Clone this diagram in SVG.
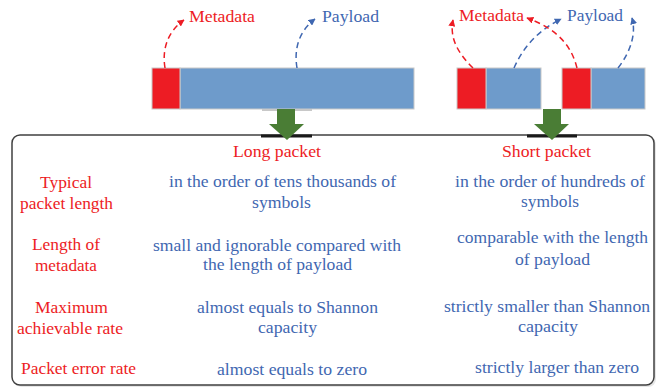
<svg xmlns="http://www.w3.org/2000/svg" width="662" height="388" viewBox="0 0 662 388">
<style>
.t{font-family:'Liberation Serif',serif;font-size:16px}
.r{fill:#ED1C24}
.b{fill:#3F67B1}
.meta{fill:#ED1C24;stroke:#C8C8C8;stroke-width:1}
.pay{fill:#6E9BCB;stroke:#C8C8C8;stroke-width:1}
.dr{fill:none;stroke:#ED1C24;stroke-width:1.5;stroke-dasharray:6 4}
.db{fill:none;stroke:#3F67B1;stroke-width:1.5;stroke-dasharray:6 4}
.green{fill:#4A7D35}
.bar{stroke:#1a1a1a;stroke-width:3}
</style>
<defs>
<marker id="ar" viewBox="0 0 10 10" refX="9" refY="5" markerWidth="7" markerHeight="7" markerUnits="userSpaceOnUse" orient="auto"><path d="M0,0 L10,5 L0,10 z" fill="#ED1C24"/></marker>
<marker id="ab" viewBox="0 0 10 10" refX="9" refY="5" markerWidth="7" markerHeight="7" markerUnits="userSpaceOnUse" orient="auto"><path d="M0,0 L10,5 L0,10 z" fill="#3F67B1"/></marker>
</defs>

<g id="long-packet">
<rect x="180" y="68" width="234" height="41" class="pay"/>
<rect x="152" y="68" width="28" height="41" class="meta"/>
<rect x="262" y="109" width="50" height="2" fill="#C8C8C8"/>
</g>
<g id="short-packet-1">
<rect x="486" y="68" width="55" height="41" class="pay"/>
<rect x="457" y="68" width="29" height="41" class="meta"/>
</g>
<g id="short-packet-2">
<rect x="591" y="68" width="54" height="41" class="pay"/>
<rect x="562" y="68" width="29" height="41" class="meta"/>
</g>

<g id="connectors">
<path d="M165,68 C162,50 167,32 184,20" class="dr" marker-end="url(#ar)"/>
<path d="M297,68 C294,50 298,32 315,19" class="db" marker-end="url(#ab)"/>
<path d="M473,68 C460,55 449,40 453,20" class="dr" marker-end="url(#ar)"/>
<path d="M514,68 C522,50 535,32 561,19" class="db" marker-end="url(#ab)"/>
<path d="M577,68 C572,48 560,30 527,18" class="dr" marker-end="url(#ar)"/>
<path d="M618,68 C632,50 636,32 632,18" class="db" marker-end="url(#ab)"/>
</g>

<g id="table">
<rect x="14" y="137" width="642" height="250" rx="8" fill="#E6E6E6"/>
<rect x="12" y="135" width="642" height="250" rx="8" fill="#FFFFFF" stroke="#404040" stroke-width="1.5"/>
<line x1="261" y1="136" x2="312" y2="136" class="bar"/>
<line x1="527" y1="136" x2="577" y2="136" class="bar"/>
</g>

<g id="arrow-long">
<path d="M277,109 H295 V124 H304 L287,140 L269,124 H277 Z" class="green"/>
</g>
<g id="arrow-short">
<path d="M543,109 H561 V124 H569 L552,140 L534,124 H543 Z" class="green"/>
</g>

<g class="t" font-family="Liberation Serif, serif" font-size="16">
<g id="labels-top">
<text x="189" y="22" class="r" textLength="66" lengthAdjust="spacingAndGlyphs">Metadata</text>
<text x="322" y="22" class="b" textLength="57" lengthAdjust="spacingAndGlyphs">Payload</text>
<text x="459" y="21" class="r" textLength="65" lengthAdjust="spacingAndGlyphs">Metadata</text>
<text x="567" y="21" class="b" textLength="56" lengthAdjust="spacingAndGlyphs">Payload</text>
</g>

<g id="headers">
<text x="233" y="157" class="r" textLength="88" lengthAdjust="spacingAndGlyphs">Long packet</text>
<text x="502" y="157" class="r" textLength="89" lengthAdjust="spacingAndGlyphs">Short packet</text>
</g>

<g id="row-labels">
<text x="40" y="188" class="r" textLength="52" lengthAdjust="spacingAndGlyphs">Typical</text>
<text x="20" y="209" class="r" textLength="93" lengthAdjust="spacingAndGlyphs">packet length</text>
<text x="32" y="250" class="r" textLength="68" lengthAdjust="spacingAndGlyphs">Length of</text>
<text x="35" y="271" class="r" textLength="62" lengthAdjust="spacingAndGlyphs">metadata</text>
<text x="35" y="313" class="r" textLength="73" lengthAdjust="spacingAndGlyphs">Maximum</text>
<text x="17" y="334" class="r" textLength="106" lengthAdjust="spacingAndGlyphs">achievable rate</text>
<text x="21" y="374" class="r" textLength="115" lengthAdjust="spacingAndGlyphs">Packet error rate</text>
</g>

<g id="long-column">
<text x="169" y="187" class="b" textLength="227" lengthAdjust="spacingAndGlyphs">in the order of tens thousands of</text>
<text x="252" y="208" class="b" textLength="59" lengthAdjust="spacingAndGlyphs">symbols</text>
<text x="153" y="251" class="b" textLength="248" lengthAdjust="spacingAndGlyphs">small and ignorable compared with</text>
<text x="203" y="270" class="b" textLength="149" lengthAdjust="spacingAndGlyphs">the length of payload</text>
<text x="197" y="313" class="b" textLength="181" lengthAdjust="spacingAndGlyphs">almost equals to Shannon</text>
<text x="258" y="333" class="b" textLength="59" lengthAdjust="spacingAndGlyphs">capacity</text>
<text x="217" y="375" class="b" textLength="150" lengthAdjust="spacingAndGlyphs">almost equals to zero</text>
</g>

<g id="short-column">
<text x="455" y="187" class="b" textLength="190" lengthAdjust="spacingAndGlyphs">in the order of hundreds of</text>
<text x="521" y="207" class="b" textLength="58" lengthAdjust="spacingAndGlyphs">symbols</text>
<text x="457" y="243" class="b" textLength="191" lengthAdjust="spacingAndGlyphs">comparable with the length</text>
<text x="515" y="265" class="b" textLength="75" lengthAdjust="spacingAndGlyphs">of payload</text>
<text x="444" y="312" class="b" textLength="206" lengthAdjust="spacingAndGlyphs">strictly smaller than Shannon</text>
<text x="518" y="332" class="b" textLength="60" lengthAdjust="spacingAndGlyphs">capacity</text>
<text x="475" y="373" class="b" textLength="164" lengthAdjust="spacingAndGlyphs">strictly larger than zero</text>
</g>
</g>
</svg>
